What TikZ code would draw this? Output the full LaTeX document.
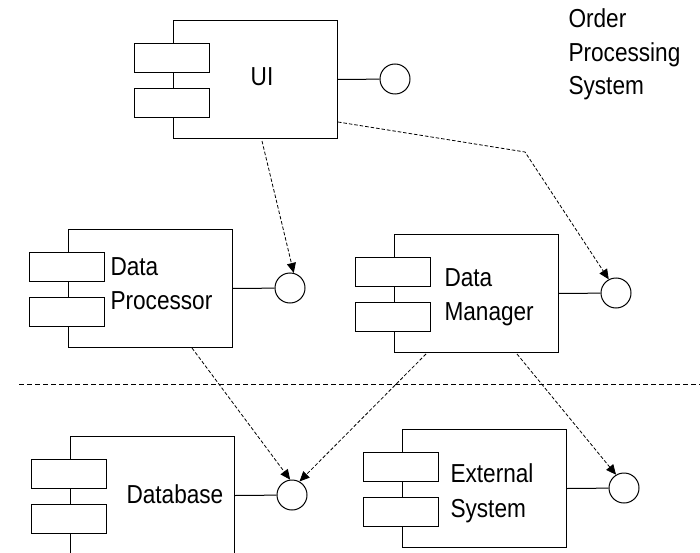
\documentclass[tikz,border=0pt]{standalone}
\usepackage{fontspec}
\setmainfont{Liberation Sans}[FakeStretch=0.87]
\usetikzlibrary{arrows.meta}

% A UML component: body, two tabs on the left edge, and a provided-interface lollipop
\newcommand{\umlcomp}[3]{% name, left x, top y
  \node[compbox] (#1) at (#2,#3) {};
  \node[comptab] (#1-t1) at (#2-39,#3+23) {};
  \node[comptab] (#1-t2) at (#2-39,#3+68) {};
  \node[port] (#1-p) at (#2+222,#3+59) {};
  \draw (#1.east) -- (#1-p);
}

\begin{document}
\begin{tikzpicture}[x=1pt,y=-1pt,line width=1pt,
  compbox/.style={draw, minimum width=164pt, minimum height=118pt, inner sep=0pt, anchor=north west},
  comptab/.style={draw, fill=white, minimum width=75pt, minimum height=29pt, inner sep=0pt, anchor=north west},
  port/.style={draw, circle, minimum size=30pt, inner sep=0pt},
  lbl/.style={font=\fontsize{26}{34}\selectfont, inner sep=0pt, anchor=base west},
  dep/.style={line width=0.8pt, dash pattern=on 3.5pt off 2pt, -{Triangle[length=10pt,width=9pt]}},
  sep/.style={line width=0.8pt, dash pattern=on 5pt off 3pt}]

\useasboundingbox (0,0) rectangle (700,553);
\clip (0,0) rectangle (700,553);

% components
\umlcomp{ui}{173}{20}
\umlcomp{dp}{68}{229}
\umlcomp{dm}{394}{234}
\umlcomp{db}{70}{436}
\umlcomp{es}{402}{429}

% labels
\node[lbl, anchor=base] (ui-l) at (262,86) {UI};
\node[lbl] (dp-l1) at (110,275) {Data};
\node[lbl] (dp-l2) at (110,309) {Processor};
\node[lbl] (dm-l1) at (444,286) {Data};
\node[lbl] (dm-l2) at (444,320) {Manager};
\node[lbl] (db-l) at (126,503) {Database};
\node[lbl] (es-l1) at (450,482) {External};
\node[lbl] (es-l2) at (450,517) {System};
\node[lbl] (title1) at (568,28) {Order};
\node[lbl] (title2) at (568,62) {Processing};
\node[lbl] (title3) at (568,95) {System};

% layer separator
\draw[sep] (19,384) -- (700,384);

% dependency origins on the component bodies
\coordinate (ui-o1) at (262,141);
\coordinate (ui-o2) at (338,122);
\coordinate (ui-bend) at (525,152);
\coordinate (dp-o) at (192,348);
\coordinate (dm-o1) at (426,354);
\coordinate (dm-o2) at (517,354);

% dependencies
\draw[dep] (ui-o1) -- (dp-p.76);
\draw[dep] (ui-o2) -- (ui-bend) -- (dm-p.118);
\draw[dep] (dp-o) -- (db-p.97);
\draw[dep] (dm-o1) -- (db-p.61);
\draw[dep] (dm-o2) -- (es-p.121);
\end{tikzpicture}
\end{document}
